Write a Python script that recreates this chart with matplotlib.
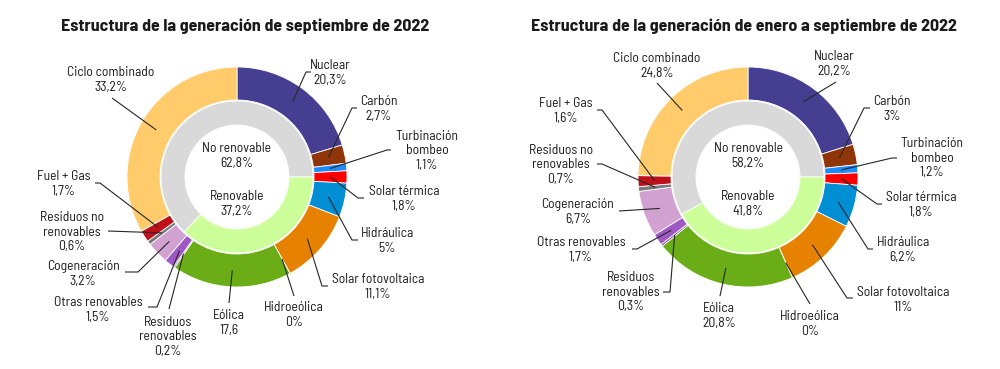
import matplotlib
matplotlib.use("Agg")
import matplotlib.pyplot as plt
import numpy as np

plt.rcParams['font.family'] = ['Barlow Semi Condensed', 'DejaVu Sans']

# Data
tecnologias = ["Nuclear", "Carbón", "Turbinación\nbombeo", "Solar térmica", "Hidráulica",
               "Solar fotovoltaica", "Hidroeólica", "Eólica", "Residuos\nrenovables",
               "Otras renovables", "Cogeneración", "Residuos no\nrenovables", "Fuel + Gas",
               "Ciclo combinado"]
sep_2022 = [20.3, 2.7, 1.1, 1.8, 5, 11.1, 0, 17.6, 0.2, 1.5, 3.2, 0.6, 1.7, 33.2]
ene_sep_2022 = [20.2, 3, 1.2, 1.8, 6.2, 11, 0, 20.8, 0.3, 1.7, 6.7, 0.7, 1.6, 24.8]

tipos = ["No renovable", "Renovable"]
tipos_sep = [62.8, 37.2]
tipos_ene_sep = [58.2, 41.8]

titulos = ["Estructura de la generación de septiembre de 2022",
           "Estructura de la generación de enero a septiembre de 2022"]

colores = ["#463f91", "#8f3509", "#1a8cff", "#ff0000", "#008fd5", "#e68200", "#2d8f8f",
           "#6aad17", "#7a3aa8", "#9e59c4", "#d1a1d1", "#7a7a7a", "#c00f1a", "#ffcb6b"]
colores_tipo = ["#d9d9d9", "#ccff99"]

H = 369  # figure height in px, y measured from top

# layout: label centre and leader path (label side -> elbow), in px from top-left
layout_izq = [
    ((330, 73), [(311, 72), (306, 72)]),
    ((379, 109), [(357, 108), (352, 108)]),
    ((427, 151), [(391, 150), (387, 150)]),
    ((404, 199), [(364, 198), (358, 198)]),
    ((387, 241), [(358, 240), (352, 240)]),
    ((378, 287), [(328, 286), (322, 286)]),
    ((294, 315), [(294, 296)]),
    ((229, 323), [(229, 303)]),
    ((168, 337), [(169, 309)]),
    ((98, 310), [(148, 307), (157, 307)]),
    ((83, 274), [(125, 272), (138, 272)]),
    ((72, 232), [(108, 231)]),
    ((64, 184), [(95, 183), (100, 183)]),
    ((111, 80), [(112, 98)]),
]
layout_der = [
    ((834, 64), [(836, 82)]),
    ((892, 109), [(870, 108), (864, 108)]),
    ((932, 158), [(897, 158), (892, 158)]),
    ((921, 205), [(882, 204), (877, 204)]),
    ((903, 250), [(873, 249), (868, 249)]),
    ((903, 300), [(853, 298), (847, 298)]),
    ((810, 324), [(810, 304)]),
    ((719, 316), [(720, 296)]),
    ((631, 292), [(663, 292), (670, 292)]),
    ((581, 250), [(632, 249), (637, 249)]),
    ((578, 212), [(619, 211)]),
    ((561, 165), [(597, 164), (602, 164)]),
    ((566, 111), [(597, 110), (602, 110)]),
    ((657, 66), [(657, 83)]),
]


def fmt(v):
    return ("%g" % v).replace(".", ",")


fig = plt.figure(figsize=(10, 3.69), dpi=100)
ax = fig.add_axes([0, 0, 1, 1])

charts = [
    (237, 177, sep_2022, tipos_sep, layout_izq, 245, titulos[0]),
    (748, 177, ene_sep_2022, tipos_ene_sep, layout_der, 744, titulos[1]),
]

R = 110
for k, (cx, cy, vals, inner, layout, tx, titulo) in enumerate(charts):
    c = (cx, H - cy)
    wedges, _ = ax.pie(vals, radius=R, center=c, startangle=90, counterclock=False,
                       colors=colores, wedgeprops=dict(width=33, edgecolor="white", linewidth=0.6))
    ax.pie(inner, radius=76, center=c, startangle=0, counterclock=True,
           colors=colores_tipo, wedgeprops=dict(width=24, edgecolor="white", linewidth=0.6))

    for i, (w, (lab, path)) in enumerate(zip(wedges, layout)):
        ang = np.deg2rad((w.theta1 + w.theta2) / 2)
        ax_pt = (c[0] + 0.85 * R * np.cos(ang), c[1] + 0.85 * R * np.sin(ang))
        xs = [p[0] for p in path] + [ax_pt[0]]
        ys = [H - p[1] for p in path] + [ax_pt[1]]
        ax.plot(xs, ys, color="#262626", lw=0.8, solid_capstyle="butt")
        txt = tecnologias[i] + "\n" + fmt(vals[i])
        if not (k == 0 and i == 7):
            txt += "%"
        ax.text(lab[0], H - lab[1], txt, ha="center", va="center", multialignment="center",
                fontsize=9.8, color="#1a1a1a", linespacing=1.15)

    ax.text(cx, H - 156, tipos[0] + "\n" + fmt(inner[0]) + "%", ha="center", va="center",
            fontsize=9.8, color="#1a1a1a", linespacing=1.15)
    ax.text(cx, H - 204, tipos[1] + "\n" + fmt(inner[1]) + "%", ha="center", va="center",
            fontsize=9.8, color="#1a1a1a", linespacing=1.15)
    ax.text(tx, H - 26, titulo, ha="center", va="center", fontsize=12.9,
            fontweight="bold", color="#1a1a1a")

ax.set_xlim(0, 1000)
ax.set_ylim(0, H)
ax.set_aspect("equal")
ax.axis("off")

fig.savefig("out.png", dpi=100, facecolor="white")
